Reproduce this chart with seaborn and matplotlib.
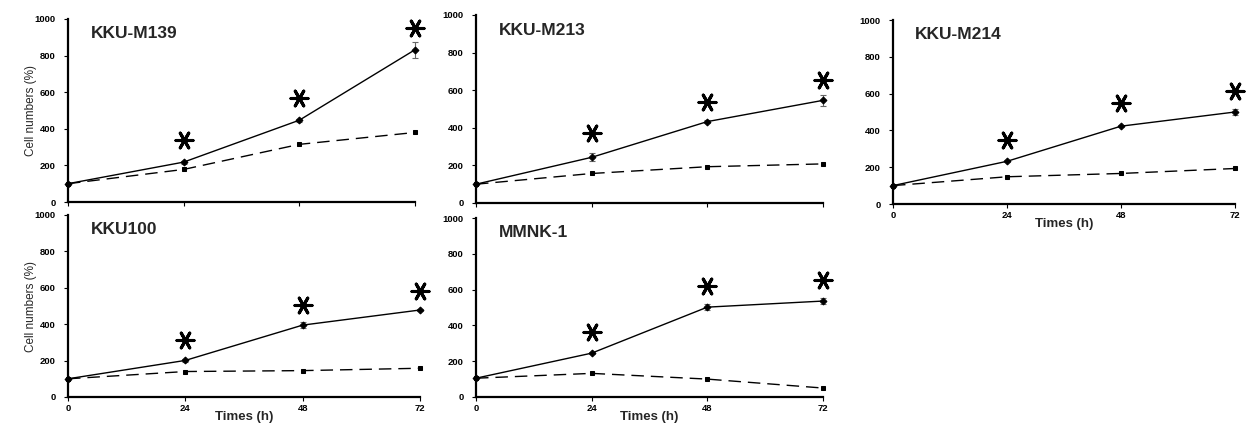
import numpy as np
import pandas as pd
import matplotlib
matplotlib.use("Agg")
import matplotlib.pyplot as plt
import seaborn as sns

sns.set_style("ticks")
plt.rcParams['font.family'] = ['Liberation Sans', 'DejaVu Sans']

times = [0, 24, 48, 72]
panel_names = ["KKU-M139", "KKU-M213", "KKU-M214", "KKU100", "MMNK-1"]

solid_vals = {
    "KKU-M139": [100, 218, 447, 832],
    "KKU-M213": [100, 243, 433, 546],
    "KKU-M214": [100, 232, 423, 500],
    "KKU100":   [100, 201, 395, 478],
    "MMNK-1":   [105, 245, 502, 536],
}
solid_err = {
    "KKU-M139": [0, 8, 8, 45],
    "KKU-M213": [0, 22, 6, 30],
    "KKU-M214": [0, 6, 6, 18],
    "KKU100":   [0, 6, 18, 6],
    "MMNK-1":   [0, 6, 15, 15],
}
dashed_vals = {
    "KKU-M139": [100, 178, 315, 380],
    "KKU-M213": [100, 157, 193, 208],
    "KKU-M214": [100, 148, 166, 193],
    "KKU100":   [100, 140, 145, 158],
    "MMNK-1":   [105, 132, 100, 50],
}
star_times = [24, 48, 72]
star_y = {
    "KKU-M139": [340, 568, 950],
    "KKU-M213": [375, 535, 656],
    "KKU-M214": [350, 550, 615],
    "KKU100":   [315, 505, 580],
    "MMNK-1":   [362, 618, 652],
}
yticks = [0, 200, 400, 600, 800, 1000]

W, H = 1246, 425
fig = plt.figure(figsize=(W / 100, H / 100), dpi=100)

# axes rectangles in pixels: left, right, top, bottom
rects = {
    "KKU-M139": (68, 415, 19, 202),
    "KKU-M213": (476, 823, 15, 203),
    "KKU-M214": (893, 1235, 20, 204),
    "KKU100":   (68, 420, 215, 397),
    "MMNK-1":   (476, 823, 218, 397),
}
show_xlabels = {"KKU-M139": False, "KKU-M213": False, "KKU-M214": True,
                "KKU100": True, "MMNK-1": True}
show_ylabel = {"KKU-M139": True, "KKU-M213": False, "KKU-M214": False,
               "KKU100": True, "MMNK-1": False}

tick_font = dict(fontsize=6.8, fontweight='bold')

for i, name in enumerate(panel_names):
    l, r, t, b = rects[name]
    ax = fig.add_axes([l / W, 1 - b / H, (r - l) / W, (b - t) / H])
    ax.set_zorder(i)
    df = pd.DataFrame({"t": times, "treat": solid_vals[name], "ctrl": dashed_vals[name]})
    ax.errorbar(times, solid_vals[name], yerr=solid_err[name], fmt='none',
                ecolor='#666666', elinewidth=0.8, capsize=2, capthick=0.8,
                clip_on=False, zorder=1)
    sns.lineplot(data=df, x="t", y="ctrl", ax=ax, color='black', lw=1.0,
                 linestyle=(0, (9, 5)), marker='s', markersize=3.5,
                 markeredgecolor='black', markerfacecolor='black', clip_on=False, zorder=2)
    sns.lineplot(data=df, x="t", y="treat", ax=ax, color='black', lw=1.0,
                 marker='D', markersize=3.5, markeredgecolor='black',
                 markerfacecolor='black', clip_on=False, zorder=3)
    sns.scatterplot(x=star_times, y=star_y[name], ax=ax, marker=(6, 2, 30), s=150,
                    color='black', linewidths=2.2, edgecolor='black', clip_on=False, zorder=4)
    ax.set_xlim(0, 72)
    ax.set_ylim(0, 1000)
    ax.set_xticks(times)
    ax.set_yticks(yticks)
    ax.set_yticklabels([str(v) for v in yticks], **tick_font)
    if show_xlabels[name]:
        ax.set_xticklabels([str(v) for v in times], **tick_font)
        ax.set_xlabel("Times (h)", fontsize=9.5, fontweight='bold', labelpad=-1.5)
    else:
        ax.set_xticklabels([])
        ax.set_xlabel("")
    if show_ylabel[name]:
        ax.set_ylabel("Cell numbers (%)", fontsize=8.5,
                      family=['Liberation Sans Narrow', 'Liberation Sans'], labelpad=-2)
    else:
        ax.set_ylabel("")
    for s in ['top', 'right']:
        ax.spines[s].set_visible(False)
    for s in ['left', 'bottom']:
        ax.spines[s].set_linewidth(1.6)
        ax.spines[s].set_color('black')
    ax.tick_params(axis='y', length=3, width=0.8, pad=6, colors='black')
    ax.tick_params(axis='x', length=3, width=0.8, pad=2, colors='black')
    ax.patch.set_alpha(0)
    ax.text(0.065, 0.92, name, transform=ax.transAxes, fontsize=12.5,
            fontweight='bold', ha='left', va='center')

fig.savefig("out.png", dpi=100)
